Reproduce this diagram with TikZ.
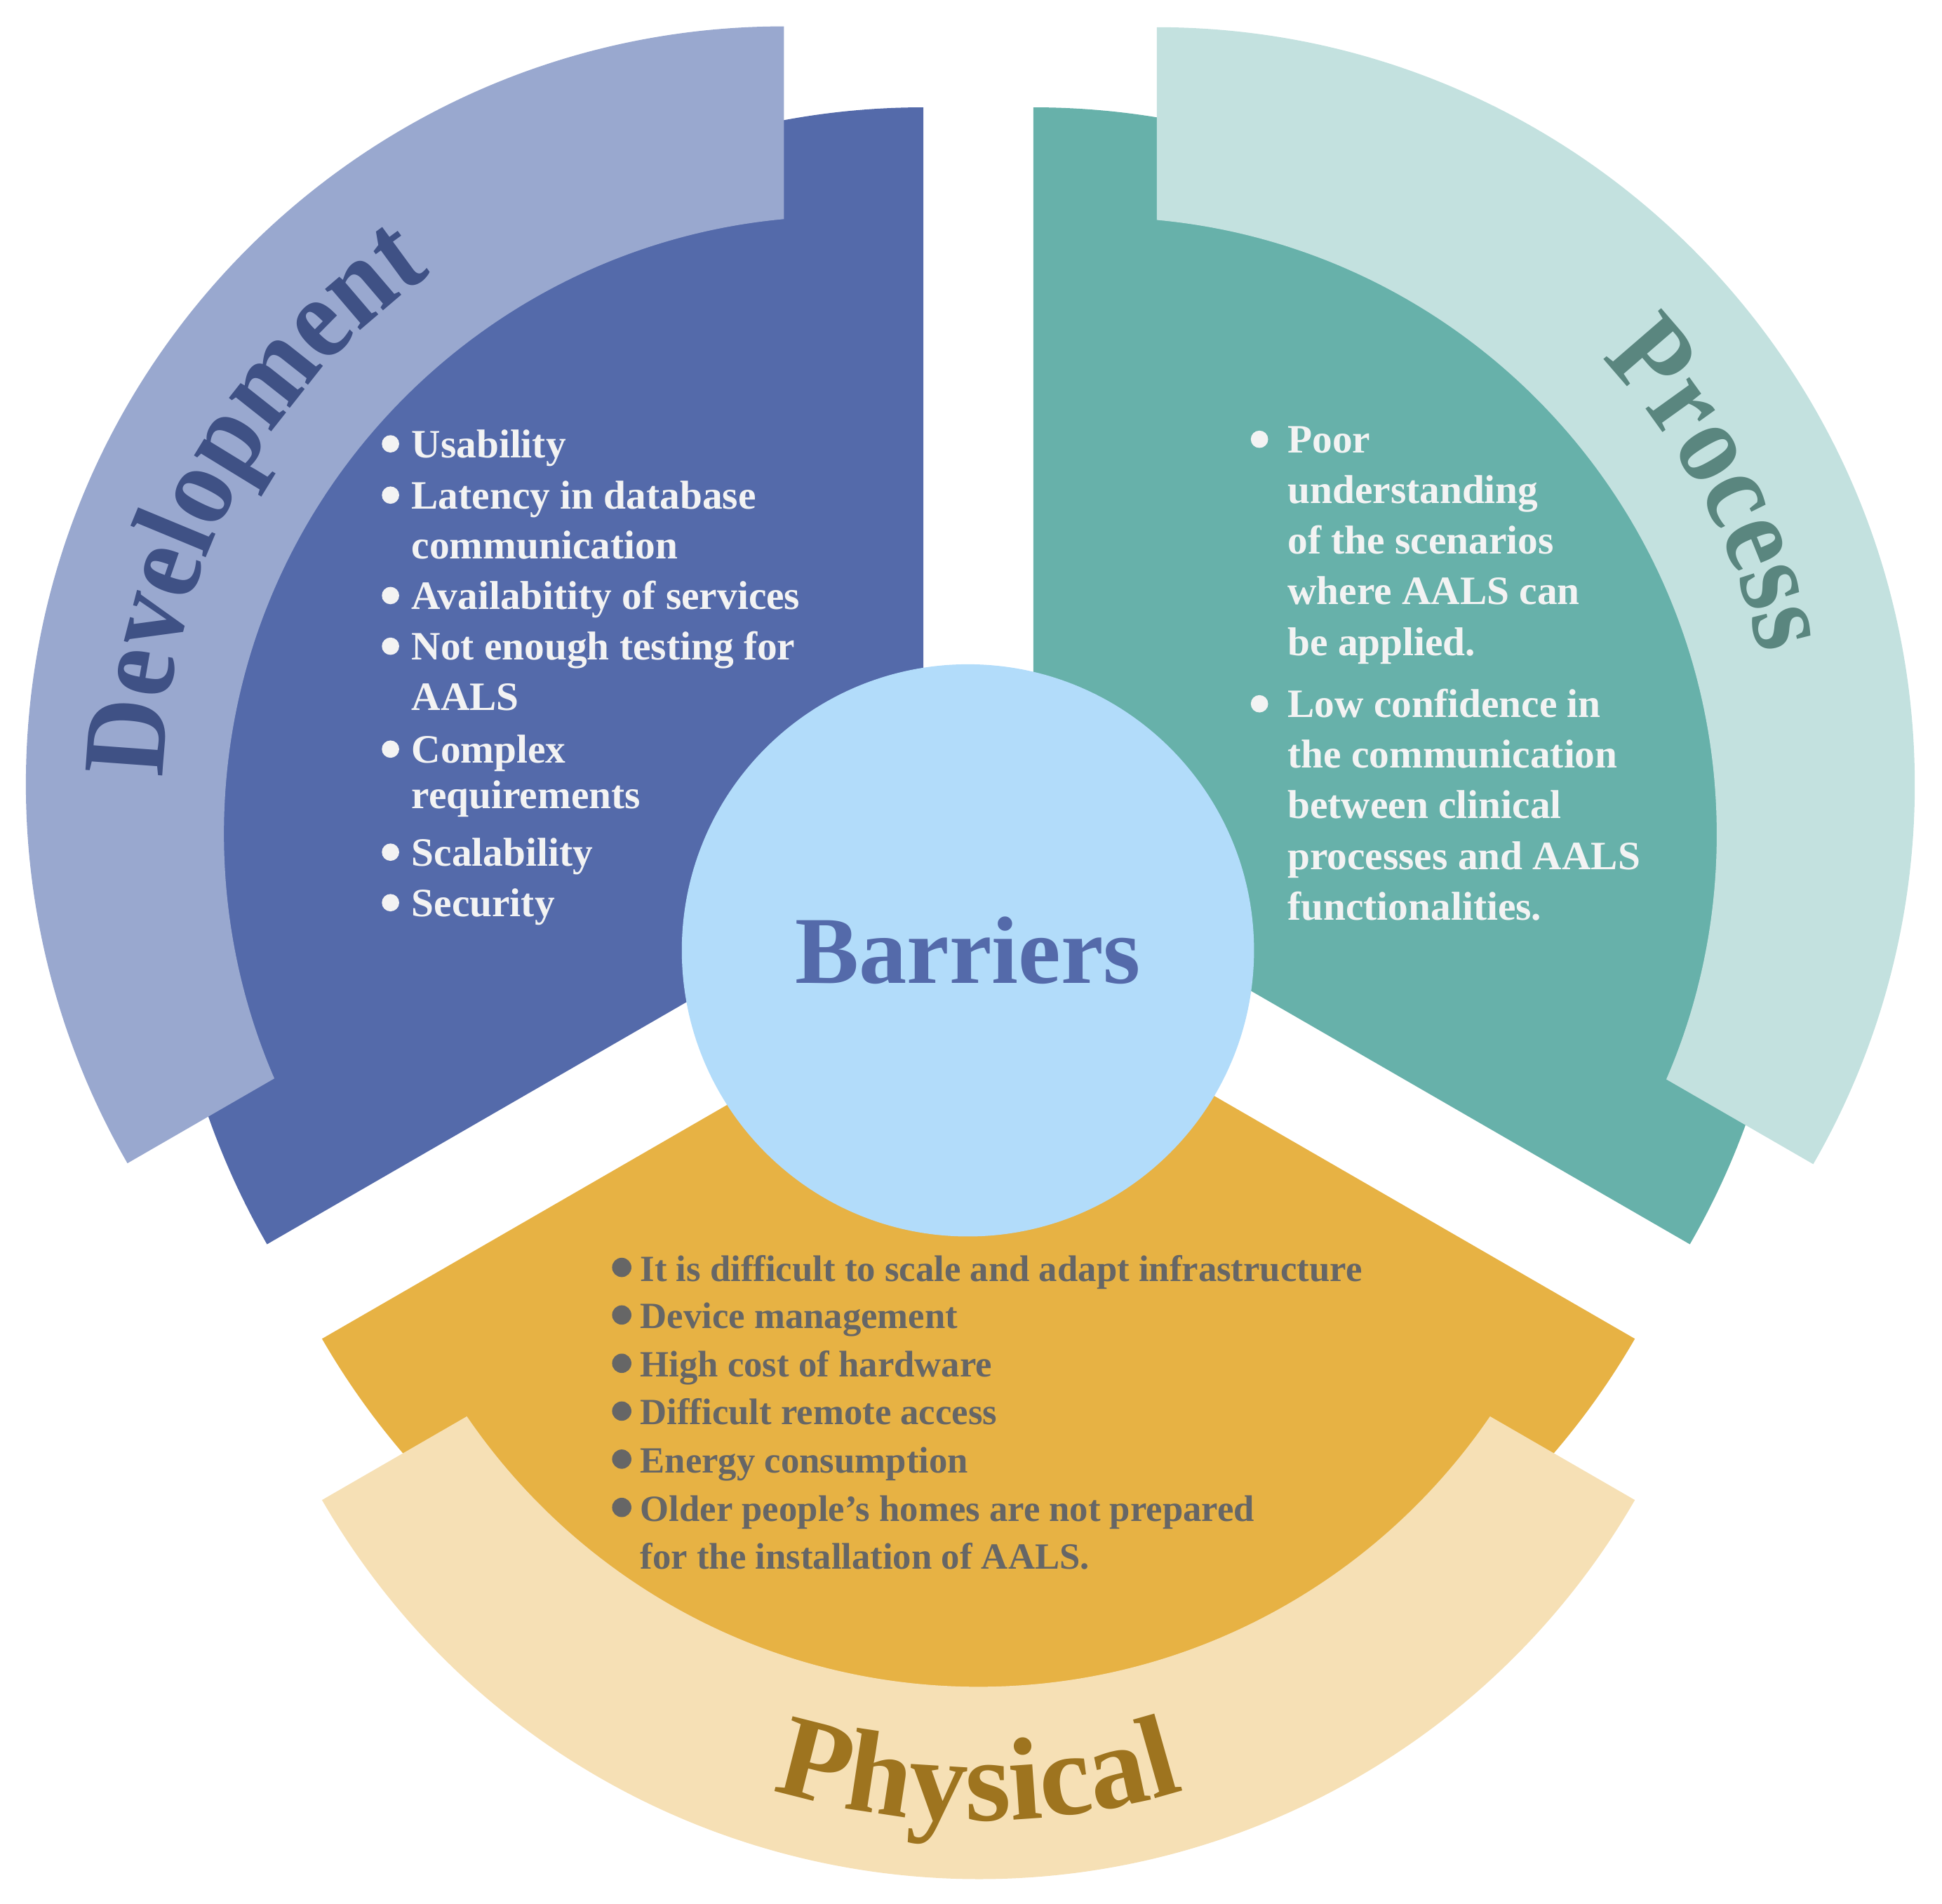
\documentclass[tikz,border=0pt]{standalone}
\usepackage{fontspec}
\setmainfont{Liberation Serif}
\newfontfamily\narrowserif{Liberation Serif}[FakeStretch=0.9]
\usetikzlibrary{decorations.text}

\definecolor{devdark}{HTML}{546AAA}
\definecolor{devlight}{HTML}{99A8CF}
\definecolor{devtitle}{HTML}{3F5185}
\definecolor{procdark}{HTML}{67B1AA}
\definecolor{proclight}{HTML}{C3E1DF}
\definecolor{proctitle}{HTML}{5A867F}
\definecolor{physdark}{HTML}{E7B244}
\definecolor{physlight}{HTML}{F6E0B5}
\definecolor{phystitle}{HTML}{9E741F}
\definecolor{physgray}{HTML}{666666}
\definecolor{corefill}{HTML}{B2DCFA}
\definecolor{listwhite}{HTML}{F3F3F3}

\newcommand{\bigtitle}{\fontsize{54}{54}\selectfont\bfseries}
\newcommand{\narrowtitle}{\narrowserif\fontsize{54}{54}\selectfont\bfseries}

\tikzset{every node/.style={inner sep=0pt},
         devitem/.style={anchor=base west, text=listwhite,
           font=\fontsize{18.5}{22}\selectfont\bfseries},
         procitem/.style={devitem},
         physitem/.style={anchor=base west, text=physgray,
           font=\fontsize{17}{20}\selectfont\bfseries},
         barrier/.style={circle, fill=corefill, minimum size=92.4mm,
           text=devdark, font=\fontsize{44}{44}\selectfont\bfseries}}

\begin{document}
\begin{tikzpicture}[x=0.2mm, y=0.2mm]
  \useasboundingbox (0,0) rectangle (1568,1537);

  % development sector
  \fill[devdark] (745.6,838.3) -- ++(90:612) arc[start angle=90, end angle=210, radius=612] -- cycle;
  \begin{scope}
    \clip (632.9,903.7) -- ++(90:612) arc[start angle=90, end angle=210, radius=612] -- cycle;
    \fill[devlight, even odd rule] (0,0) rectangle (1568,1537) (679.2,863.8) circle[radius=498.4];
  \end{scope}

  % process sector
  \fill[procdark] (834.4,838.3) -- ++(90:612) arc[start angle=90, end angle=-30, radius=612] -- cycle;
  \begin{scope}
    \clip (934,903) -- ++(90:612) arc[start angle=90, end angle=-30, radius=612] -- cycle;
    \fill[proclight, even odd rule] (0,0) rectangle (1568,1537) (887.7,863.1) circle[radius=498.4];
  \end{scope}

  % physical sector
  \fill[physdark] (790,762) -- ++(210:612) arc[start angle=210, end angle=330, radius=612] -- cycle;
  \begin{scope}
    \clip (790,631.8) -- ++(210:612) arc[start angle=210, end angle=330, radius=612] -- cycle;
    \fill[physlight, even odd rule] (0,0) rectangle (1568,1537) (790,674.8) circle[radius=499.8];
  \end{scope}

  % titles along the outer bands
  \path[decorate, decoration={text along path, text align=center, text color=devtitle,
    text={|\narrowtitle|Development}}]
    (632.9,903.7) ++(214:501) arc[start angle=214, end angle=90, radius=501];
  \path[decorate, decoration={text along path, text align=center, text color=proctitle,
    text={|\narrowtitle|Process}}]
    (934,903) ++(86:498) arc[start angle=86, end angle=-30, radius=498];
  \path[decorate, decoration={text along path, text align=center, text color=phystitle,
    text={|\bigtitle|Physical}}]
    (790,631.8) ++(210:565) arc[start angle=210, end angle=330, radius=565];

  \node[barrier] (core) at (781.5,769.6) {Barriers};

  % development items
  \node[devitem] (d1) at (332,1167.6) {Usability};
  \node[devitem] (d2) at (332,1126.2) {Latency in database};
  \node[devitem] (d3) at (332,1085.9) {communication};
  \node[devitem] (d4) at (332,1045.1) {Availabitity of services};
  \node[devitem] (d5) at (332,1004.2) {Not enough testing for};
  \node[devitem] (d6) at (332,963.3) {AALS};
  \node[devitem] (d7) at (332,921.1) {Complex};
  \node[devitem] (d8) at (332,884.4) {requirements};
  \node[devitem] (d9) at (332,837.9) {Scalability};
  \node[devitem] (d10) at (332,797.1) {Security};
  \fill[listwhite] ([shift={(-16.7,11)}]d1.base west) circle[radius=7];
  \fill[listwhite] ([shift={(-16.7,11)}]d2.base west) circle[radius=7];
  \fill[listwhite] ([shift={(-16.7,11)}]d4.base west) circle[radius=7];
  \fill[listwhite] ([shift={(-16.7,11)}]d5.base west) circle[radius=7];
  \fill[listwhite] ([shift={(-16.7,11)}]d7.base west) circle[radius=7];
  \fill[listwhite] ([shift={(-16.7,11)}]d9.base west) circle[radius=7];
  \fill[listwhite] ([shift={(-16.7,11)}]d10.base west) circle[radius=7];

  % process items
  \node[procitem] (p1) at (1039.3,1171.3) {Poor};
  \node[procitem] (p2) at (1039.3,1130.4) {understanding};
  \node[procitem] (p3) at (1039.3,1089.5) {of the scenarios};
  \node[procitem] (p4) at (1039.3,1048.7) {where AALS can};
  \node[procitem] (p5) at (1039.3,1007.9) {be applied.};
  \node[procitem] (p6) at (1039.3,957.7) {Low confidence in};
  \node[procitem] (p7) at (1039.3,916.8) {the communication};
  \node[procitem] (p8) at (1039.3,876) {between clinical};
  \node[procitem] (p9) at (1039.3,835.1) {processes and AALS};
  \node[procitem] (p10) at (1039.3,794.3) {functionalities.};
  \fill[listwhite] ([shift={(-22.4,11)}]p1.base west) circle[radius=7];
  \fill[listwhite] ([shift={(-22.4,11)}]p6.base west) circle[radius=7];

  % physical items
  \node[physitem] (y1) at (516.6,502.6) {It is difficult to scale and adapt infrastructure};
  \node[physitem] (y2) at (516.6,464.2) {Device management};
  \node[physitem] (y3) at (516.6,425.2) {High cost of hardware};
  \node[physitem] (y4) at (516.6,386.6) {Difficult remote access};
  \node[physitem] (y5) at (516.6,347.8) {Energy consumption};
  \node[physitem] (y6) at (516.6,308.8) {Older people's homes are not prepared};
  \node[physitem] (y7) at (516.6,270.2) {for the installation of AALS.};
  \fill[physgray] ([shift={(-14.6,11)}]y1.base west) circle[radius=7.8];
  \fill[physgray] ([shift={(-14.6,11)}]y2.base west) circle[radius=7.8];
  \fill[physgray] ([shift={(-14.6,11)}]y3.base west) circle[radius=7.8];
  \fill[physgray] ([shift={(-14.6,11)}]y4.base west) circle[radius=7.8];
  \fill[physgray] ([shift={(-14.6,11)}]y5.base west) circle[radius=7.8];
  \fill[physgray] ([shift={(-14.6,11)}]y6.base west) circle[radius=7.8];
\end{tikzpicture}
\end{document}
